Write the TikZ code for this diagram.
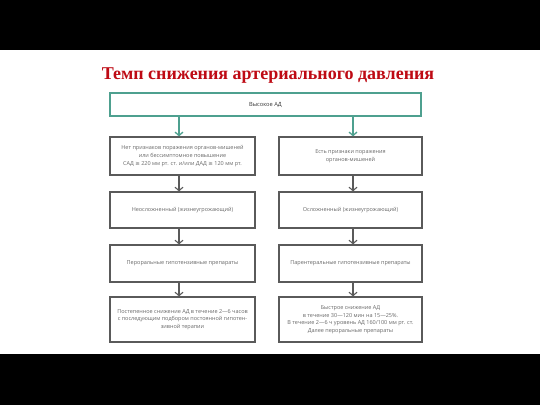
\documentclass[tikz,border=0pt]{standalone}
\usepackage{fontspec}
\setmainfont{Liberation Serif}
\newfontfamily\boxfont{Open Sans}
\newfontfamily\symfont{DejaVu Sans}
\usetikzlibrary{arrows.meta}
\definecolor{tealc}{RGB}{78,160,143}
\definecolor{boxgray}{RGB}{90,90,90}
\definecolor{txtgray}{RGB}{105,105,105}
\definecolor{titlered}{RGB}{190,10,20}
\newcommand{\gte}{{\symfont ≥}}
\begin{document}
\begin{tikzpicture}[x=1pt,y=-1pt,
  stepbox/.style={draw=boxgray,line width=1.2pt,fill=white,inner sep=1pt,align=center,
    font=\boxfont\fontsize{5.5}{7.6}\selectfont,text=txtgray},
  topbox/.style={draw=tealc,line width=1.3pt,fill=white,inner sep=1pt,align=center,
    font=\boxfont\fontsize{5.7}{7.6}\selectfont,text=black!80},
  flowarrow/.style={draw=boxgray,line width=1.1pt,-{Straight Barb[length=3.5pt,width=8pt]}},
  tealarrow/.style={draw=tealc,line width=1.3pt,-{Straight Barb[length=3.5pt,width=8pt]}}]
\useasboundingbox (0,0) rectangle (540,405);
\fill[black] (0,0) rectangle (540,405);
\fill[white] (0,50) rectangle (540,354);

\node[anchor=base,text=titlered,font=\bfseries\fontsize{18}{20}\selectfont] (title) at (268,79) {Темп снижения артериального давления};

\node[topbox,minimum width=311pt,minimum height=23pt] (top) at (265.5,104.5) {Высокое АД};

\coordinate (xl) at (179,0);
\coordinate (xr) at (353,0);

\node[stepbox,minimum width=145pt,minimum height=38pt] (l1) at (182.5,156) {Нет признаков поражения органов-мишеней\\или бессимптомное повышение\\САД \gte{} 220 мм рт. ст. и/или ДАД \gte{} 120 мм рт.};
\node[stepbox,minimum width=143pt,minimum height=38pt] (r1) at (350.5,156) {Есть признаки поражения\\органов-мишеней};

\node[stepbox,minimum width=145pt,minimum height=36pt] (l2) at (182.5,210) {Неосложненный (жизнеугрожающий)};
\node[stepbox,minimum width=143pt,minimum height=36pt] (r2) at (350.5,210) {Осложненный (жизнеугрожающий)};

\node[stepbox,minimum width=145pt,minimum height=37pt] (l3) at (182.5,263.5) {Пероральные гипотензивные препараты};
\node[stepbox,minimum width=143pt,minimum height=37pt] (r3) at (350.5,263.5) {Парентеральные гипотензивные препараты};

\node[stepbox,minimum width=145pt,minimum height=45pt] (l4) at (182.5,319.5) {Постепенное снижение АД в течение 2—6 часов\\с последующим подбором постоянной гипотен-\\зивной терапии};
\node[stepbox,minimum width=143pt,minimum height=45pt] (r4) at (350.5,319.5) {Быстрое снижение АД\\в течение 30—120 мин на 15—25\%.\\В течение 2—6 ч уровень АД 160/100 мм рт. ст.\\Далее пероральные препараты};

\draw[tealarrow] (top.south -| xl) -- (l1.north -| xl);
\draw[tealarrow] (top.south -| xr) -- (r1.north -| xr);
\draw[flowarrow] (l1.south -| xl) -- (l2.north -| xl);
\draw[flowarrow] (r1.south -| xr) -- (r2.north -| xr);
\draw[flowarrow] (l2.south -| xl) -- (l3.north -| xl);
\draw[flowarrow] (r2.south -| xr) -- (r3.north -| xr);
\draw[flowarrow] (l3.south -| xl) -- (l4.north -| xl);
\draw[flowarrow] (r3.south -| xr) -- (r4.north -| xr);
\end{tikzpicture}
\end{document}
